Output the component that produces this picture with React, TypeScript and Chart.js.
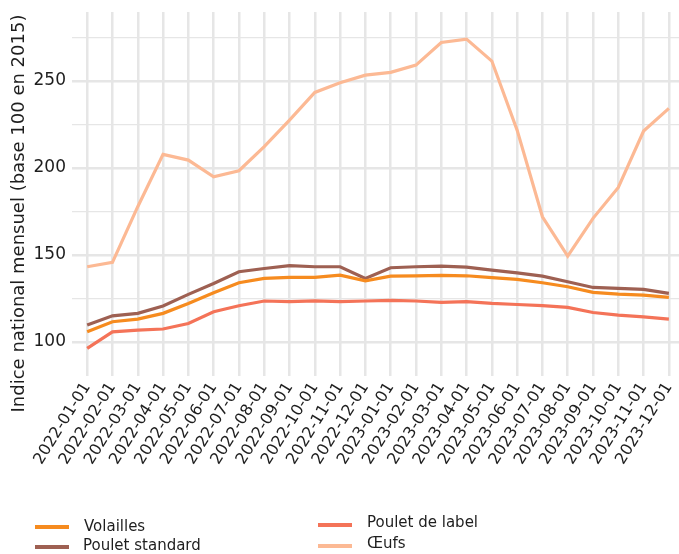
import React, { useEffect, useRef } from "react";
import { Chart, registerables } from "chart.js";

Chart.register(...registerables);

const months = [
  "2022-01-01", "2022-02-01", "2022-03-01", "2022-04-01", "2022-05-01", "2022-06-01",
  "2022-07-01", "2022-08-01", "2022-09-01", "2022-10-01", "2022-11-01", "2022-12-01",
  "2023-01-01", "2023-02-01", "2023-03-01", "2023-04-01", "2023-05-01", "2023-06-01",
  "2023-07-01", "2023-08-01", "2023-09-01", "2023-10-01", "2023-11-01", "2023-12-01",
];

const volailles = [
  105.9, 111.7, 113.2, 116.5, 122.2, 128.3, 134.1, 136.6, 137.2, 137.2, 138.5, 135.2,
  137.9, 138.1, 138.3, 138.1, 137.0, 136.0, 134.1, 131.8, 128.6, 127.6, 127.0, 125.7,
];
const pouletStandard = [
  109.8, 115.1, 116.5, 120.7, 127.4, 133.7, 140.4, 142.3, 143.9, 143.3, 143.3, 136.6,
  142.7, 143.3, 143.7, 143.1, 141.4, 139.8, 137.9, 134.7, 131.4, 130.9, 130.3, 128.0,
];
const pouletLabel = [
  96.4, 105.9, 106.9, 107.5, 110.7, 117.4, 120.9, 123.6, 123.2, 123.7, 123.2, 123.6,
  124.0, 123.6, 122.8, 123.2, 122.2, 121.6, 120.9, 119.9, 117.0, 115.5, 114.5, 113.2,
];
const oeufs = [
  143.3, 145.8, 177.8, 207.9, 204.6, 195.0, 198.5, 212.3, 227.6, 243.5, 249.0, 253.4,
  255.0, 259.2, 272.2, 274.1, 261.5, 221.8, 172.0, 149.4, 171.1, 188.9, 221.3, 234.3,
];

const yTicks = [100, 125, 150, 175, 200, 225, 250, 275];
const yTitle = "Indice national mensuel (base 100 en 2015)";

const series = [
  { label: "Volailles", values: volailles, color: "#F68B1F" },
  { label: "Poulet standard", values: pouletStandard, color: "#9E6052" },
  { label: "Poulet de label", values: pouletLabel, color: "#F47358" },
  { label: "Œufs", values: oeufs, color: "#FCB994" },
];

const FONT = "'DejaVu Sans', 'Open Sans', sans-serif";
const TEXT = "#1e1e1e";
const GRID = "#e6e6e6";

const yTitlePlugin = {
  id: "yTitlePlugin",
  afterDraw(chart: any) {
    const ctx = chart.ctx;
    ctx.save();
    ctx.translate(23.5, 213.5);
    ctx.rotate(-Math.PI / 2);
    ctx.font = `18px ${FONT}`;
    ctx.fillStyle = TEXT;
    ctx.textAlign = "center";
    ctx.textBaseline = "alphabetic";
    ctx.fillText(yTitle, 0, 0);
    ctx.restore();
  },
};

export default function App() {
  const ref = useRef<HTMLCanvasElement>(null);

  useEffect(() => {
    const chart = new Chart(ref.current!, {
      type: "line",
      data: {
        datasets: series.map((s) => ({
          label: s.label,
          data: s.values.map((v, i) => ({ x: i, y: v })),
          borderColor: s.color,
          backgroundColor: s.color,
          borderWidth: 3.2,
          pointRadius: 0,
          tension: 0,
          fill: false,
        })),
      },
      plugins: [yTitlePlugin],
      options: {
        animation: false,
        responsive: false,
        maintainAspectRatio: false,
        layout: { padding: { top: 12, right: 0, left: 0, bottom: 0 } },
        plugins: { legend: { display: false }, tooltip: { enabled: false } },
        scales: {
          x: {
            type: "linear",
            min: -0.6,
            max: 23.4,
            afterBuildTicks: (s: any) => {
              s.ticks = months.map((_, i) => ({ value: i }));
            },
            afterFit: (s: any) => {
              s.height = 554 - 376;
              s.paddingRight = 0;
              s.paddingLeft = 0;
            },
            ticks: {
              autoSkip: false,
              minRotation: 58,
              maxRotation: 58,
              padding: 3,
              color: TEXT,
              font: { family: FONT, size: 16 },
              callback: (v: any) => months[v as number] ?? "",
            },
            grid: { color: GRID, lineWidth: 2.5, drawTicks: false },
            border: { display: false },
          },
          y: {
            type: "linear",
            min: 80.5,
            max: 289.7,
            afterBuildTicks: (s: any) => {
              s.ticks = yTicks.map((v) => ({ value: v }));
            },
            afterFit: (s: any) => {
              s.width = 72;
              s.paddingTop = 0;
              s.paddingBottom = 0;
            },
            ticks: {
              padding: 6,
              color: TEXT,
              font: { family: FONT, size: 17 },
              callback: (v: any) => ((v as number) % 50 === 0 ? String(v) : ""),
            },
            grid: {
              color: GRID,
              lineWidth: (ctx: any) => (ctx.tick && ctx.tick.value % 50 === 0 ? 2.5 : 1.2),
              drawTicks: false,
            },
            border: { display: false },
          },
        },
      },
    });
    return () => chart.destroy();
  }, []);

  const legendItems = [
    { s: series[0], left: 35, lineY: 527, textLeft: 84, textTop: 516 },
    { s: series[1], left: 35, lineY: 546.5, textLeft: 83, textTop: 535 },
    { s: series[2], left: 318, lineY: 525, textLeft: 367, textTop: 512 },
    { s: series[3], left: 318, lineY: 545.5, textLeft: 367, textTop: 533 },
  ];

  return (
    <div style={{ position: "absolute", left: 0, top: 0, width: 679, height: 554, background: "#fff" }}>
      <canvas ref={ref} width={679} height={554} style={{ display: "block" }} />
      {legendItems.map((it) => (
        <React.Fragment key={it.s.label}>
          <div
            style={{
              position: "absolute",
              left: it.left,
              top: it.lineY - 2,
              width: 34,
              height: 4,
              background: it.s.color,
            }}
          />
          <div
            style={{
              position: "absolute",
              left: it.textLeft,
              top: it.textTop,
              fontFamily: FONT,
              fontSize: 15,
              lineHeight: "20px",
              color: TEXT,
              whiteSpace: "nowrap",
            }}
          >
            {it.s.label}
          </div>
        </React.Fragment>
      ))}
    </div>
  );
}
